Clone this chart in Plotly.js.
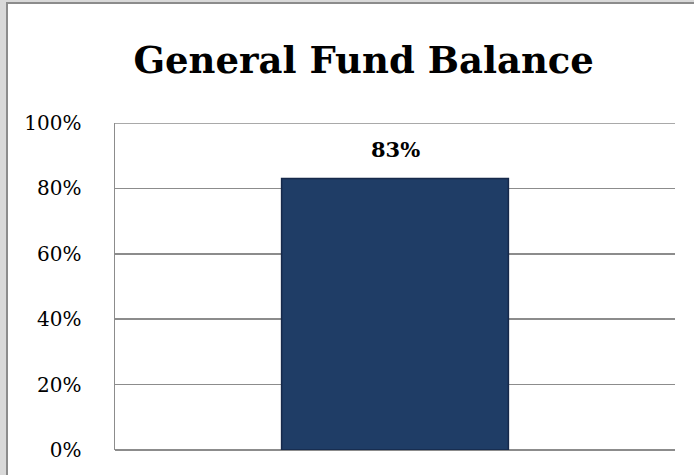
<!DOCTYPE html>
<html>
<head>
<meta charset="utf-8">
<script src="https://cdn.plot.ly/plotly-3.0.1.min.js"></script>
<style>
  html, body { margin: 0; padding: 0; background: #ffffff; }
  #frame { position: absolute; left: 0; top: 0; width: 694px; height: 475px; background: #d9d9d9; overflow: hidden; }
  #chart { position: absolute; left: 6px; top: 2px; width: 688px; height: 473px; background: #ffffff; border-left: 2px solid #8c8c8c; border-top: 2px solid #8c8c8c; }
</style>
</head>
<body>
<div id="frame"><div id="chart"></div></div>
<script>
const categories = ["General Fund Balance"];
const values = [0.83];
const valueLabels = ["83%"];
const tickValues = [0, 0.2, 0.4, 0.6, 0.8, 1.0];
const tickLabels = ["0%", "20%", "40%", "60%", "80%", "100%"];

const serif = "'DejaVu Serif', 'Liberation Serif', serif";

const trace = {
  type: "bar",
  x: categories,
  y: values,
  width: 0.405,
  marker: { color: "#1f3d66", line: { color: "#16294a", width: 1.5 } },
  hoverinfo: "none"
};

const yMax = tickValues[tickValues.length - 1];

const layout = {
  width: 688,
  height: 473,
  margin: { l: 107, r: 21, t: 119, b: 27 },
  paper_bgcolor: "#ffffff",
  plot_bgcolor: "#ffffff",
  showlegend: false,
  title: {
    text: "<b>General Fund Balance</b>",
    font: { family: serif, size: 37, color: "#000000" },
    x: 0.517, xref: "container", xanchor: "center",
    y: 0.882, yref: "container", yanchor: "middle"
  },
  xaxis: {
    showticklabels: false,
    showgrid: false,
    zeroline: false,
    showline: false,
    ticks: ""
  },
  yaxis: {
    range: [0, yMax],
    tickvals: tickValues,
    ticktext: tickLabels,
    showgrid: true,
    gridcolor: "#8c8c8c",
    gridwidth: 1.5,
    zeroline: true,
    zerolinecolor: "#8c8c8c",
    zerolinewidth: 1.5,
    showline: true,
    linecolor: "#8c8c8c",
    linewidth: 1.5,
    ticks: "",
    ticklabelstandoff: 28,
    tickfont: { family: serif, size: 20, color: "#000000" }
  },
  shapes: [{
    type: "line", xref: "paper", yref: "y",
    x0: 0, x1: 1, y0: yMax, y1: yMax,
    line: { color: "#8c8c8c", width: 1.5 }, layer: "below"
  }],
  annotations: categories.map((c, i) => ({
    x: c, y: values[i], xref: "x", yref: "y",
    text: "<b>" + valueLabels[i] + "</b>",
    showarrow: false, yanchor: "bottom", yshift: 15,
    font: { family: serif, size: 21, color: "#000000" }
  }))
};

Plotly.newPlot("chart", [trace], layout, { staticPlot: true, displayModeBar: false });
</script>
</body>
</html>
